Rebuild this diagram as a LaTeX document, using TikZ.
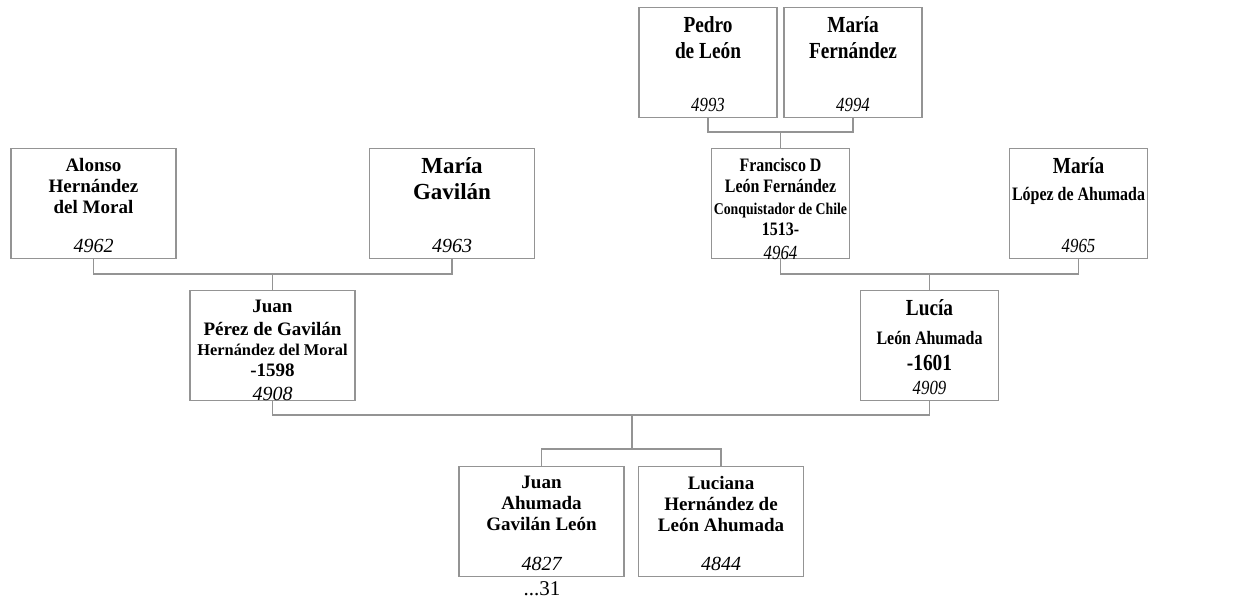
\documentclass[tikz,border=0pt]{standalone}
\usepackage{fontspec}
\setmainfont{Liberation Serif}
\newfontfamily\narrowfont[FakeStretch=0.84]{Liberation Serif}
\usepackage{tikz}
\usepackage{xcolor}
\usetikzlibrary{positioning, calc}

\definecolor{linegray}{gray}{0.58}
\newcommand{\szbig}{\fontsize{17.25pt}{19.5pt}\selectfont\bfseries}
\newcommand{\szmid}{\fontsize{14.25pt}{15.75pt}\selectfont\bfseries}
\newcommand{\szsmall}{\fontsize{12.3pt}{15pt}\selectfont\bfseries}
\newcommand{\sznum}{\fontsize{15pt}{18pt}\selectfont\mdseries\itshape}
\newcommand{\card}[3][120pt]{%
  \begin{minipage}[c][82.5pt][s]{#1}\centering
  \vspace*{7pt}#2\par\vfill
  {\sznum #3\par}\vspace{4.5pt}%
  \end{minipage}}

\begin{document}
\begin{tikzpicture}[
    x=0.75pt, y=-0.75pt,
    person/.style={draw=linegray, line width=0.9pt, rectangle, inner sep=0pt, minimum height=82.5pt, anchor=north},
    wide/.style={person, minimum width=123.75pt},
    narrow/.style={person, minimum width=103.5pt, font=\narrowfont},
    link/.style={draw=linegray, line width=1.1pt}
]
\useasboundingbox (0,0) rectangle (1259,602);

% Great-grandparents
\node[narrow] (pedro) at (708,7) {\card[103pt]{\szbig Pedro\\ de León}{4993}};
\node[narrow] (mariaf) at (853,7) {\card[103pt]{\szbig María\\ Fernández}{4994}};

% Grandparents
\node[wide] (alonso) at (93.5,148) {\card{\szmid Alonso\\ Hernández\\ del Moral}{4962}};
\node[wide] (mariag) at (452,148) {\card{\szbig María\\ Gavilán}{4963}};
\node[narrow] (francisco) at (780.5,148) {\card[103pt]{{\szmid Francisco D\\ León Fernández\par}\vspace{1.5pt}{\szsmall Conquistador de Chile\par}{\szmid 1513-\par}}{4964}};
\node[narrow] (marial) at (1078.5,148) {\card[103pt]{{\szbig María\par}\vspace{4.5pt}{\szmid López de Ahumada\par}}{4965}};

\coordinate (fam1) at (780.5,132);
\draw[link] (pedro.south) |- (fam1) -| (mariaf.south);
\draw[link] (fam1) -- (francisco.north);

% Parents
\node[wide] (juanpg) at (272.5,290) {\card{{\szmid Juan\par}\vspace{1.5pt}{\szmid Pérez de Gavilán\par}{\szsmall Hernández del Moral\par}{\szmid -1598\par}}{4908}};
\node[narrow] (lucia) at (929.5,290) {\card[103pt]{{\szbig Lucía\par}\vspace{6pt}{\szmid León Ahumada\par}{\szbig -1601\par}}{4909}};

\coordinate (fam2) at (272.5,274);
\coordinate (fam3) at (929.5,274);
\draw[link] (alonso.south) |- (fam2) -| (mariag.south);
\draw[link] (fam2) -- (juanpg.north);
\draw[link] (francisco.south) |- (fam3) -| (marial.south);
\draw[link] (fam3) -- (lucia.north);

% Children
\node[wide] (juana) at (541.5,466) {\card{\szmid Juan\\ Ahumada\\ Gavilán León}{4827}};
\node[wide] (luciana) at (721,466) {\card{\szmid Luciana\\ Hernández de\\ León Ahumada}{4844}};
\node[anchor=base, inner sep=0pt, font=\fontsize{15.75pt}{18pt}\selectfont] (juanamore) at (542,595) {...31};

\coordinate (fam4) at (632,415);
\coordinate (kids) at (632,449);
\draw[link] (juanpg.south) |- (fam4) -| (lucia.south);
\draw[link] (fam4) -- (kids);
\draw[link] (juana.north) |- (kids) -| (luciana.north);

\end{tikzpicture}
\end{document}
